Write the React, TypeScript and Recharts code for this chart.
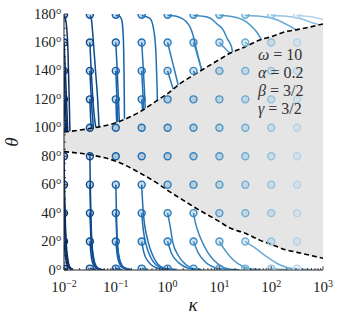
import React from "react";
import { Area, ComposedChart, Line, Scatter, XAxis, YAxis } from "recharts";

const W = 341;
const H = 321;
const FONT = "'Liberation Serif', 'DejaVu Serif', serif";

// starting grid
const KAPPAS = [0.01, 0.0316, 0.1, 0.316, 1, 3.16, 10, 31.6, 100, 316];
const THETAS = [1, 20, 40, 60, 80, 100, 120, 140, 160, 179.5];
const COLORS = [
  "#08306b", "#0b4a8f", "#1660a8", "#1f6fb4", "#2b7bba",
  "#3787c0", "#4d97c9", "#6badd5", "#90c1df", "#b2d3e9",
];

// dashed separatrices (gray band between them)
const EDGE_K = [0.01, 0.0316, 0.1, 0.316, 0.71, 1, 1.73, 3.16, 10, 16, 31.6, 60, 100, 200, 316, 1000];
const EDGE_HI = [97, 99.5, 103.5, 112, 120.5, 124, 131, 137, 148, 152.4, 157, 161.7, 164, 167.8, 169, 173];
const EDGE_LO = [83.2, 81, 76.5, 67.5, 59.8, 56, 50.5, 44.5, 34, 29.5, 25.8, 21, 18, 14, 12.4, 8.2];

// trajectories, one list per starting column: [kappa, theta] pairs
const PATHS_0 = [
  [[0.01, 179], [0.0106, 177], [0.0113, 170], [0.0119, 155], [0.0124, 130], [0.0128, 110], [0.013, 97.6]],
  [[0.01, 160], [0.0104, 148], [0.0109, 130], [0.0114, 112], [0.0118, 97.4]],
  [[0.01, 140], [0.0104, 125], [0.0109, 108], [0.0113, 97.3]],
  [[0.01, 120], [0.0103, 110], [0.0107, 97.2]],
  [[0.01, 100], [0.0102, 98.5], [0.0104, 97.1]],
  [[0.01, 80], [0.0102, 60], [0.0105, 40], [0.011, 20], [0.0118, 8], [0.013, 2], [0.015, 0.3]],
  [[0.01, 60], [0.0103, 40], [0.0108, 20], [0.0116, 8], [0.0128, 2], [0.0148, 0.3]],
  [[0.01, 40], [0.0104, 25], [0.011, 12], [0.012, 4], [0.014, 0.5]],
  [[0.01, 20], [0.0106, 10], [0.0116, 3], [0.0135, 0.5]],
  [[0.01, 1], [0.012, 0.3]],
];
const PATHS_1 = [
  [[0.0316, 179], [0.0336, 177], [0.0352, 170], [0.037, 160], [0.041, 138], [0.045, 118], [0.0475, 101]],
  [[0.0316, 160], [0.033, 145], [0.035, 128], [0.038, 110], [0.041, 100.4]],
  [[0.0316, 140], [0.0328, 128], [0.0345, 114], [0.037, 100.1]],
  [[0.0316, 120], [0.0322, 112], [0.033, 104], [0.034, 99.8]],
  [[0.0316, 80], [0.0322, 60], [0.033, 40], [0.0345, 20], [0.0375, 8], [0.042, 2.5], [0.05, 0.5], [0.06, 0.1]],
  [[0.0316, 60], [0.0325, 40], [0.034, 20], [0.037, 8], [0.041, 2.5], [0.049, 0.5]],
  [[0.0316, 40], [0.0328, 25], [0.035, 12], [0.039, 4], [0.047, 0.5]],
  [[0.0316, 20], [0.0335, 10], [0.037, 3.5], [0.045, 0.5]],
  [[0.0316, 1], [0.04, 0.3]],
];
const PATHS_2 = [
  [[0.1, 179], [0.117, 178.5], [0.13, 176], [0.139, 165], [0.144, 140], [0.146, 120], [0.147, 106.3]],
  [[0.1, 160], [0.105, 145], [0.111, 125], [0.117, 104.7]],
  [[0.1, 140], [0.104, 125], [0.109, 104.1]],
  [[0.1, 120], [0.102, 112], [0.104, 103.8]],
  [[0.1, 60], [0.103, 40], [0.107, 20], [0.115, 10], [0.128, 4], [0.15, 1.2], [0.2, 0.2]],
  [[0.1, 40], [0.104, 25], [0.11, 13], [0.12, 6], [0.14, 2], [0.19, 0.3]],
  [[0.1, 20], [0.106, 11], [0.116, 5], [0.135, 1.5], [0.18, 0.3]],
  [[0.1, 1], [0.13, 0.4]],
];
const PATHS_3 = [
  [[0.316, 179], [0.457, 177], [0.545, 168], [0.6, 150], [0.625, 130], [0.635, 119.3]],
  [[0.316, 160], [0.335, 145], [0.355, 128], [0.37, 113.7]],
  [[0.316, 140], [0.33, 127], [0.345, 113]],
  [[0.316, 120], [0.322, 116], [0.328, 112.5]],
  [[0.316, 60], [0.34, 40], [0.42, 20], [0.52, 10], [0.65, 4], [0.9, 1], [1.3, 0.2]],
  [[0.316, 40], [0.34, 28], [0.39, 17], [0.47, 9], [0.6, 3.5], [0.85, 1], [1.2, 0.2]],
  [[0.316, 20], [0.35, 12], [0.42, 6], [0.55, 2.2], [0.8, 0.6], [1.1, 0.15]],
  [[0.316, 1], [0.4, 0.4]],
];
const PATHS_4 = [
  [[1, 179], [1.4, 178.6], [1.8, 177.3], [2.3, 174.5], [2.7, 171], [3.1, 165], [3.4, 159], [3.9, 150], [4.55, 140.6]],
  [[1, 160], [1.15, 151], [1.35, 141], [1.6, 130.1]],
  [[1, 140], [1.12, 134], [1.28, 127.2]],
  [[1, 40], [1.13, 30], [1.25, 20], [1.65, 9.5], [2.3, 3.5], [3.3, 0.6], [4.5, 0.1]],
  [[1, 20], [1.18, 12], [1.65, 5], [2.5, 1.2], [3.5, 0.2]],
  [[1, 1], [1.5, 0.4]],
];
const PATHS_5 = [
  [[3.16, 179], [4.5, 178.5], [6.7, 177], [9, 173], [11.8, 168.8], [14.5, 162], [17.1, 157], [18, 153.2]],
  [[3.16, 160], [3.5, 155], [3.9, 149], [4.55, 140.6]],
  [[3.16, 140], [3.35, 137.7]],
  [[3.16, 40], [3.4, 34], [4.2, 23.5], [6.1, 11.7], [10, 3.5], [16, 0.5], [24, 0.1]],
  [[3.16, 20], [3.9, 12], [5.6, 5], [8.9, 1.2], [13, 0.2]],
  [[3.16, 1], [4.5, 0.4]],
];
const PATHS_6 = [
  [[10, 179], [16, 178.5], [23, 177.2], [30, 175.5], [41.7, 171.4], [52, 167.5], [65, 162]],
  [[10, 160], [12, 157], [14, 154.5], [16, 152.6]],
  [[10, 20], [12.8, 14], [18.6, 7], [29, 2.3], [40, 0.7], [60, 0.1]],
  [[10, 1], [15, 0.4]],
];
const PATHS_7 = [
  [[31.6, 179], [61, 178.5], [128, 176], [231, 171.4], [300, 169]],
  [[31.6, 160], [37, 158.1]],
  [[31.6, 20], [45, 16.4], [81, 9.4], [148, 3.5], [300, 0.5], [500, 0.1]],
  [[31.6, 1], [60, 0.4]],
];
const PATHS_8 = [
  [[100, 179], [200, 178.5], [360, 176.8], [650, 173.7], [850, 172.5]],
  [[100, 1], [200, 0.4]],
];
const PATHS_9 = [
  [[316, 179], [600, 178], [1000, 176]],
  [[316, 1], [600, 0.4]],
];
const PATHS = [PATHS_0, PATHS_1, PATHS_2, PATHS_3, PATHS_4, PATHS_5, PATHS_6, PATHS_7, PATHS_8, PATHS_9];

// ticks
const X_MAJOR = [0.01, 0.1, 1, 10, 100, 1000];
const X_MINOR_STEPS = [2, 3, 4, 5, 6, 7, 8, 9];
const Y_MAJOR = [0, 20, 40, 60, 80, 100, 120, 140, 160, 180];
const Y_MINOR_STEP = 5;

const ANNOTATIONS = [
  { sym: "ω", val: "10" },
  { sym: "α", val: "0.2" },
  { sym: "β", val: "3/2" },
  { sym: "γ", val: "3/2" },
];

const X_TICKS = [
  ...X_MAJOR,
  ...X_MAJOR.slice(0, -1).flatMap((d) => X_MINOR_STEPS.map((s) => d * s)),
].sort((a, b) => a - b);
const Y_TICKS = Array.from({ length: 180 / Y_MINOR_STEP + 1 }, (_, i) => i * Y_MINOR_STEP);

const isMajorX = (v: number) => X_MAJOR.some((m) => Math.abs(m - v) / m < 1e-6);
const isMajorY = (v: number) => Y_MAJOR.includes(v);

const edgeData = EDGE_K.map((k, i) => ({ k, hi: EDGE_HI[i], lo: EDGE_LO[i] }));
const toPts = (c: number[][]) => c.map(([k, t]) => ({ k, t }));

const TICK_COLOR = "#222";

function BottomTick(p: any) {
  const v = p.payload.value;
  const major = isMajorX(v);
  const exp = Math.round(Math.log10(v));
  return (
    <g>
      <line x1={p.x} x2={p.x} y1={p.y} y2={p.y - (major ? 4 : 2)} stroke={TICK_COLOR} strokeWidth={0.8} />
      {major && (
        <text x={p.x} y={p.y + 22} textAnchor="middle" fontFamily={FONT} fontSize={15} fill="#222">
          10
          <tspan dy={-5} fontSize={10}>{exp < 0 ? "\u2212" + -exp : String(exp)}</tspan>
        </text>
      )}
    </g>
  );
}

function TopTick(p: any) {
  const major = isMajorX(p.payload.value);
  return <line x1={p.x} x2={p.x} y1={p.y} y2={p.y + (major ? 4 : 2)} stroke={TICK_COLOR} strokeWidth={0.8} />;
}

function LeftTick(p: any) {
  const v = p.payload.value;
  const major = isMajorY(v);
  return (
    <g>
      <line x1={p.x} x2={p.x + (major ? 4 : 2)} y1={p.y} y2={p.y} stroke={TICK_COLOR} strokeWidth={0.8} />
      {major && (
        <text x={p.x - 2.5} y={p.y + 4.5} textAnchor="end" fontFamily={FONT} fontSize={14.5} fill="#222">
          {v}°
        </text>
      )}
    </g>
  );
}

function RightTick(p: any) {
  const major = isMajorY(p.payload.value);
  return <line x1={p.x} x2={p.x - (major ? 4 : 2)} y1={p.y} y2={p.y} stroke={TICK_COLOR} strokeWidth={0.8} />;
}

function ringShape(color: string) {
  return (props: any) => (
    <circle
      cx={props.cx}
      cy={props.cy}
      r={3.5}
      fill={color}
      fillOpacity={0.25}
      stroke={color}
      strokeWidth={1.4}
    />
  );
}

export default function App() {
  const axisCommon = {
    tickSize: 0,
    tickMargin: 0,
    tickLine: false,
    interval: 0 as const,
    axisLine: { stroke: "#222", strokeWidth: 1 },
  };

  return (
    <div style={{ position: "absolute", left: 0, top: 0, width: W, height: H, background: "#fff" }}>
      <ComposedChart
        width={W}
        height={H}
        data={edgeData}
        margin={{ top: 14, right: 18, bottom: 21, left: 8 }}
      >
        <XAxis
          xAxisId="b"
          dataKey="k"
          type="number"
          scale="log"
          domain={[0.01, 1000]}
          allowDataOverflow
          ticks={X_TICKS}
          tick={BottomTick}
          height={30}
          {...axisCommon}
        />
        <XAxis
          xAxisId="t"
          orientation="top"
          dataKey="k"
          type="number"
          scale="log"
          domain={[0.01, 1000]}
          allowDataOverflow
          ticks={X_TICKS}
          tick={TopTick}
          height={0}
          {...axisCommon}
        />
        <YAxis
          yAxisId="l"
          type="number"
          domain={[0, 180]}
          allowDataOverflow
          ticks={Y_TICKS}
          tick={LeftTick}
          width={56}
          {...axisCommon}
        />
        <YAxis
          yAxisId="r"
          orientation="right"
          type="number"
          domain={[0, 180]}
          allowDataOverflow
          ticks={Y_TICKS}
          tick={RightTick}
          width={0}
          {...axisCommon}
        />

        <Area
          xAxisId="b"
          yAxisId="l"
          type="monotone"
          dataKey={(d: any) => [d.lo, d.hi]}
          fill="#e5e5e5"
          fillOpacity={1}
          stroke="none"
          isAnimationActive={false}
        />

        {PATHS.flatMap((col, ci) =>
          col.map((c, j) => (
            <Line
              key={`p${ci}-${j}`}
              xAxisId="b"
              yAxisId="l"
              data={toPts(c)}
              dataKey="t"
              type="monotone"
              stroke={COLORS[ci]}
              strokeWidth={1.5}
              dot={false}
              activeDot={false}
              isAnimationActive={false}
            />
          ))
        )}

        {KAPPAS.map((k, ci) => (
          <Scatter
            key={`s${ci}`}
            xAxisId="b"
            yAxisId="l"
            data={THETAS.map((t) => ({ k, t }))}
            dataKey="t"
            shape={ringShape(COLORS[ci])}
            isAnimationActive={false}
          />
        ))}

        <Line
          xAxisId="b"
          yAxisId="l"
          dataKey="hi"
          type="monotone"
          stroke="#000"
          strokeWidth={1.6}
          strokeDasharray="5 3"
          dot={false}
          activeDot={false}
          isAnimationActive={false}
        />
        <Line
          xAxisId="b"
          yAxisId="l"
          dataKey="lo"
          type="monotone"
          stroke="#000"
          strokeWidth={1.6}
          strokeDasharray="5 3"
          dot={false}
          activeDot={false}
          isAnimationActive={false}
        />
      </ComposedChart>

      <svg
        width={W}
        height={H}
        style={{ position: "absolute", left: 0, top: 0, pointerEvents: "none" }}
      >
        <text x={193} y={311} textAnchor="middle" fontFamily={FONT} fontSize={19} fontStyle="italic" fill="#222">
          κ
        </text>
        <text
          x={0}
          y={0}
          transform="translate(18 142) rotate(-90)"
          textAnchor="middle"
          fontFamily={FONT}
          fontSize={19}
          fontStyle="italic"
          fill="#222"
        >
          θ
        </text>
        {ANNOTATIONS.map((a, i) => (
          <text key={a.sym} x={258} y={60 + i * 18} fontFamily={FONT} fontSize={16} fill="#333">
            <tspan fontStyle="italic">{a.sym}</tspan>
            {" = " + a.val}
          </text>
        ))}
      </svg>
    </div>
  );
}
